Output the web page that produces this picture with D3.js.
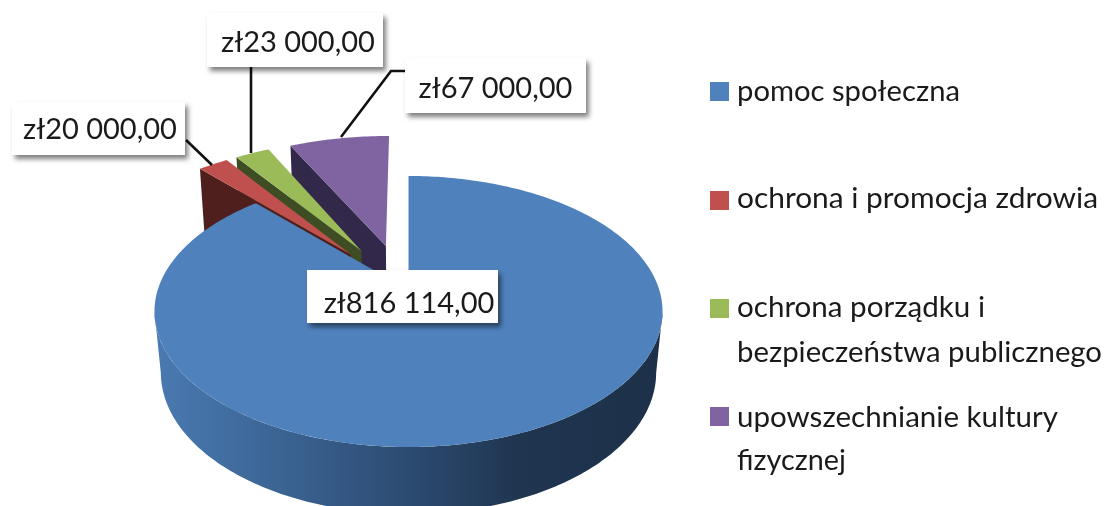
<!DOCTYPE html>
<html lang="pl">
<head>
<meta charset="utf-8">
<script src="https://cdn.jsdelivr.net/npm/d3@7"></script>
<style>
  html, body { margin: 0; padding: 0; background: #fff; overflow: hidden; }
  svg { display: block; filter: blur(0.45px); }
  text { font-family: Lato, "Open Sans", sans-serif; fill: #1a1a1a; }
</style>
</head>
<body>
<div id="chart"></div>
<script>
const CATEGORIES = [
  "pomoc społeczna",
  "ochrona i promocja zdrowia",
  "ochrona porządku i bezpieczeństwa publicznego",
  "upowszechnianie kultury fizycznej"
];
const VALUES = [816114, 20000, 23000, 67000];
const TOP_COLORS = ["#4f81bd", "#c0504d", "#9bbb59", "#8064a2"];
const WALL_COLORS = ["#2f5078", "#4f1f1d", "#3f4d24", "#32294a"];
const LEGEND_LINES = [
  ["pomoc społeczna"],
  ["ochrona i promocja zdrowia"],
  ["ochrona porządku i", "bezpieczeństwa publicznego"],
  ["upowszechnianie kultury", "fizycznej"]
];

const width = 1110, height = 506;

// pie plane -> screen, hand fitted perspective
const CX = 408.5, CY = 290, RX = 250.8, RY = 132.1;
const PERSP = 0.1587, DEPTH = 62, DEPTH_PERSP = 0.025;
const EXPLODE = 0.36, SLICE_RADIUS = 1.08, SLICE_DEPTH = 72, SLICE_SHIFT = -0.014;

const plLocale = d3.formatLocale({ decimal: ",", thousands: " ", grouping: [3], currency: ["zł", ""] });
const money = plLocale.format("$,.2f");

const svg = d3.select("#chart").append("svg")
  .attr("width", width)
  .attr("height", height);

const defs = svg.append("defs");
const shadow = defs.append("filter").attr("id", "boxShadow")
  .attr("x", "-15%").attr("y", "-25%").attr("width", "130%").attr("height", "160%");
shadow.append("feDropShadow")
  .attr("dx", 3).attr("dy", 4).attr("stdDeviation", 2.5)
  .attr("flood-color", "#000").attr("flood-opacity", 0.5);

const wallGrad = defs.append("linearGradient").attr("id", "wallGrad")
  .attr("gradientUnits", "userSpaceOnUse")
  .attr("x1", 155).attr("x2", 662).attr("y1", 0).attr("y2", 0);
wallGrad.selectAll("stop")
  .data([[0, "#4a7ab2"], [0.18, "#3f6a9c"], [0.45, "#2f5078"], [0.72, "#1f3550"], [1, "#1d3049"]])
  .join("stop")
  .attr("offset", d => d[0])
  .attr("stop-color", d => d[1]);

const project = (u, v, drop) => {
  const d = 1 + PERSP * v + (drop ? DEPTH_PERSP : 0);
  return [CX + RX * u / d, CY + (-RY * v + drop) / d];
};

const arcs = d3.pie().sort(null).value(d => d)(VALUES);
arcs.forEach((a, i) => {
  const mid = (a.startAngle + a.endAngle) / 2;
  const e = i === 0 ? 0 : EXPLODE;
  a.ox = e * Math.sin(mid) + (i === 0 ? 0 : SLICE_SHIFT);
  a.oy = e * Math.cos(mid);
  a.r = i === 0 ? 1 : SLICE_RADIUS;
});

const line = d3.line();
const rimPoint = (a, t, drop) => project(a.ox + a.r * Math.sin(t), a.oy + a.r * Math.cos(t), drop);

const rim = (a, t0, t1, drop) => {
  const n = Math.max(2, Math.ceil(Math.abs(t1 - t0) * 60));
  return d3.range(n + 1).map(i => rimPoint(a, t0 + (t1 - t0) * i / n, drop));
};

const pieG = svg.append("g");

// back slices first so the nearer ones paint over them
[3, 2, 1].forEach(i => {
  const a = arcs[i];
  const g = pieG.append("g");
  g.append("path")
    .attr("d", line([
      rimPoint(a, a.startAngle, 0),
      project(a.ox, a.oy, 0),
      project(a.ox, a.oy, SLICE_DEPTH),
      rimPoint(a, a.startAngle, SLICE_DEPTH)
    ]) + "Z")
    .attr("fill", WALL_COLORS[i]);
  g.append("path")
    .attr("d", line([project(a.ox, a.oy, 0), ...rim(a, a.startAngle, a.endAngle, 0)]) + "Z")
    .attr("fill", TOP_COLORS[i]);
});

// big slice, side runs between the two tangent points of the ellipse
const blue = arcs[0];
const tangent = Math.acos(-PERSP);
const sideFrom = tangent, sideTo = 2 * Math.PI - tangent;
pieG.append("path")
  .attr("d", line([...rim(blue, sideFrom, sideTo, 0), ...rim(blue, sideTo, sideFrom, DEPTH)]) + "Z")
  .attr("fill", "url(#wallGrad)");
pieG.append("path")
  .attr("d", line([project(0, 0, 0), ...rim(blue, blue.startAngle, blue.endAngle, 0)]) + "Z")
  .attr("fill", TOP_COLORS[0]);

// leader lines
const LEADERS = [
  [[186, 140], [212, 165]],
  [[251, 66], [251, 153]],
  [[406, 71], [391, 71], [341, 137]]
];
svg.append("g").selectAll("path")
  .data(LEADERS)
  .join("path")
  .attr("d", d => line(d))
  .attr("fill", "none")
  .attr("stroke", "#111")
  .attr("stroke-width", 2.6);

// data labels: index into VALUES, box and text anchor
const LABEL_BOXES = [
  { i: 1, x: 12, y: 102, w: 173, h: 53, tx: 100, ty: 139 },
  { i: 2, x: 207, y: 13, w: 176, h: 54, tx: 298, ty: 52 },
  { i: 3, x: 405, y: 58, w: 181, h: 55, tx: 495.5, ty: 98 },
  { i: 0, x: 307, y: 270, w: 191, h: 53, tx: 409, ty: 313 }
];
const labels = svg.append("g").selectAll("g")
  .data(LABEL_BOXES)
  .join("g");
labels.append("rect")
  .attr("x", d => d.x).attr("y", d => d.y)
  .attr("width", d => d.w).attr("height", d => d.h)
  .attr("fill", "#fff")
  .attr("filter", "url(#boxShadow)");
labels.append("text")
  .attr("x", d => d.tx).attr("y", d => d.ty)
  .attr("text-anchor", "middle")
  .attr("font-size", 29)
  .text(d => money(VALUES[d.i]));

// legend
const LEGEND_Y = [82, 191, 299, 407];
const LEGEND_BASE = [[101], [208], [317, 362], [427, 470]];
const LEGEND_WIDTH = [[223], [361], [248, 365], [321, 109]];
const legend = svg.append("g").selectAll("g")
  .data(CATEGORIES)
  .join("g");
legend.append("rect")
  .attr("x", 710).attr("y", (d, i) => LEGEND_Y[i])
  .attr("width", 19).attr("height", 19)
  .attr("fill", (d, i) => TOP_COLORS[i]);
legend.each(function (d, i) {
  d3.select(this).selectAll("text")
    .data(LEGEND_LINES[i])
    .join("text")
    .attr("x", 737)
    .attr("y", (t, j) => LEGEND_BASE[i][j])
    .attr("font-size", 29.5)
    .attr("textLength", (t, j) => LEGEND_WIDTH[i][j])
    .attr("lengthAdjust", "spacingAndGlyphs")
    .text(t => t);
});
</script>
</body>
</html>
